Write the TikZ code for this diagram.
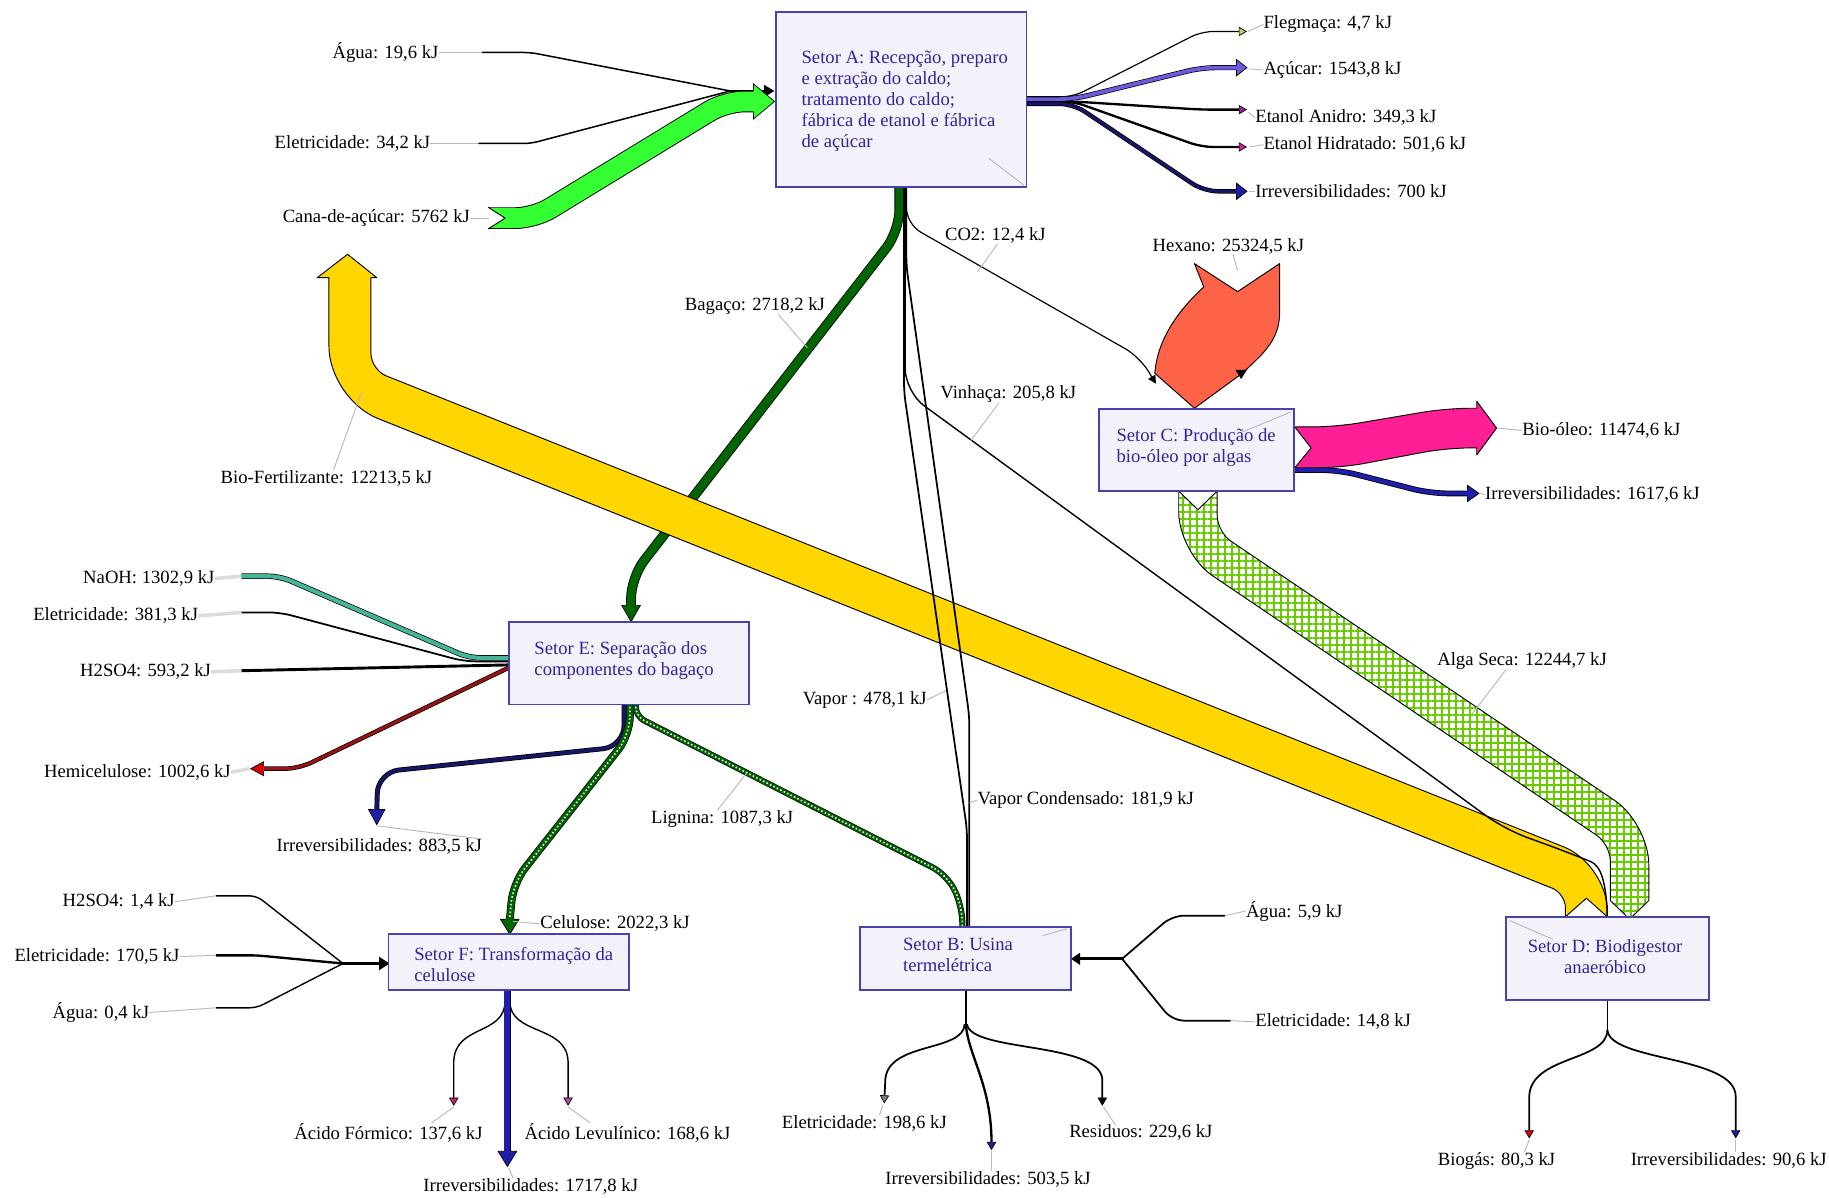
\documentclass[tikz,border=0pt]{standalone}
\usepackage{fontspec}
\setmainfont{Liberation Serif}
\usetikzlibrary{arrows.meta,patterns.meta}

\definecolor{boxfill}{RGB}{243,242,250}
\definecolor{boxline}{RGB}{70,66,175}
\definecolor{boxtext}{RGB}{48,36,160}
\definecolor{cana}{RGB}{51,255,51}
\definecolor{bagaco}{RGB}{0,100,0}
\definecolor{fert}{RGB}{255,214,0}
\definecolor{hexano}{RGB}{255,99,71}
\definecolor{bioleo}{RGB}{255,30,150}
\definecolor{alga}{RGB}{102,204,0}
\definecolor{navy}{RGB}{22,22,100}
\definecolor{irrblue}{RGB}{30,30,170}
\definecolor{acucar}{RGB}{110,90,220}
\definecolor{naoh}{RGB}{70,180,150}
\definecolor{hemi}{RGB}{150,20,20}
\definecolor{leader}{RGB}{185,185,185}
\definecolor{leaderlight}{RGB}{220,220,220}
\definecolor{flegma}{RGB}{200,200,100}
\definecolor{etanol}{RGB}{150,40,150}
\definecolor{hidrat}{RGB}{210,40,150}
\definecolor{formico}{RGB}{190,40,110}
\definecolor{levul}{RGB}{170,80,170}
\definecolor{biogas}{RGB}{220,0,0}

% arrow head of a wide band: tip, direction, length, head half width, band half width, fill
\newcommand\bandhead[6]{%
  \filldraw[fill=#6, draw=black, line width=0.6pt, line join=miter, shift={#1}, rotate=#2]
    (-#3,#5) -- (-#3,#4) -- (0,0) -- (-#3,-#4) -- (-#3,-#5);}

\begin{document}
\begin{tikzpicture}[x=1pt,y=-1pt,
  setor/.style={draw=boxline, fill=boxfill, line width=1.6pt, inner sep=0pt},
  boxtxt/.style={text=boxtext, align=left, inner sep=0pt, font=\fontsize{16}{18}\selectfont},
  lbl/.style={inner sep=0pt, font=\fontsize{16}{18}\selectfont},
  lead/.style={draw=leader, line width=0.8pt},
  leadwide/.style={draw=leaderlight, line width=3pt},
  flw/.style={draw=black, line join=round},
  tip/.style={-{Triangle[length=7pt,width=8pt,line width=0.6pt,fill=#1]}},
  tip/.default=black,
  dots/.style={draw=white, line width=1.3pt, dash pattern=on 1.3pt off 2pt}
]
\useasboundingbox (0,0) rectangle (1568,1027);
\fill[white] (0,0) rectangle (1568,1027);

% ---------- Setor A: inputs ----------
\draw[flw, line width=1.3pt, rounded corners=6pt] (413,45) -- (455,45) -- (626,78);
\draw[flw, line width=1.3pt, rounded corners=6pt] (410,123) -- (455,123) -- (626,78);
\draw[line width=2pt, -{Triangle[length=9pt,width=10pt]}] (624,78) -- (664,78);
\draw[line width=0.8pt, double=cana, double distance=17pt, rounded corners=16pt]
  (419,187) -- (458,187) -- (622,87) -- (647,87);
\bandhead{(664,87)}{0}{18}{15}{9.3}{cana}
\filldraw[fill=white, draw=black, line width=0.8pt] (418.5,177.7) -- (433,187) -- (418.5,196.3);

% ---------- Setor A: outputs to the right ----------
\draw[flw, line width=1pt, rounded corners=10pt, tip=flegma] (880,83) -- (920,83) -- (1030,27) -- (1069,27);
\draw[flw, line width=2pt, rounded corners=10pt, tip=etanol] (880,87) -- (920,87) -- (1030,94) -- (1069,94);
\draw[flw, line width=2pt, rounded corners=10pt, tip=hidrat] (880,87) -- (920,87) -- (1030,126) -- (1069,126);
\draw[line width=0.6pt, double=navy, double distance=2.6pt, rounded corners=12pt]
  (880,89) -- (920,89) -- (1032,164) -- (1061,164);
\bandhead{(1069,164)}{0}{9}{7}{1.9}{irrblue}
\draw[line width=0.6pt, double=acucar, double distance=3.2pt, rounded corners=12pt]
  (880,85) -- (920,85) -- (1030,58) -- (1061,58);
\bandhead{(1069,58)}{0}{9}{7}{2.2}{acucar}

% ---------- Bagaço ----------
\draw[line width=0.7pt, double=bagaco, double distance=7pt, rounded corners=18pt]
  (771,160) -- (771,198) -- (541,495) -- (541,520);
\bandhead{(541,533)}{-90}{14}{8}{4.2}{bagaco}

% ---------- Bio-Fertilizante (D -> out) ----------
\filldraw[fill=fert, draw=black, line width=0.8pt, line join=round]
  (298,218) -- (323,238) -- (318,238)
  [rounded corners=14pt] -- (318,317)
  [rounded corners=40pt] -- (1378,741)
  [sharp corners] -- (1378,786) -- (1360,770) -- (1342,786)
  [rounded corners=12pt] -- (1342,766)
  [rounded corners=45pt] -- (282,342)
  [sharp corners] -- (282,238) -- (272,238) -- cycle;

% ---------- lines leaving the bottom of Setor A ----------
\draw[flw, line width=1.2pt, rounded corners=20pt]
  (776,160) -- (776,336) -- (1290,711) -- (1345,731) .. controls (1372,742) and (1378,755) .. (1378,795);
\draw[flw, line width=1.5pt, rounded corners=8pt] (775,160) -- (775,336) -- (829,711) -- (829,796);
\draw[flw, line width=1.5pt, rounded corners=8pt] (777,160) -- (777,228) -- (831,614) -- (831,796);

% ---------- Hexano ----------
\filldraw[fill=hexano, draw=black, line width=0.8pt, line join=round]
  (1024,226) -- (1061,250) -- (1097,226) -- (1097,268)
  .. controls (1097,292) and (1082,304) .. (1065,320) -- (1024,350) -- (990,320)
  .. controls (992,293) and (1008,268) .. (1032,246) -- cycle;
\fill[black] (1059,317) -- (1069,317) -- (1064,325) -- cycle;
\draw[flw, line width=1pt, rounded corners=14pt, -{Triangle[length=7pt,width=7pt]}]
  (777,160) -- (777,192) -- (977,306) -- (991,329);

% ---------- Setor C: outputs ----------
\draw[line width=0.7pt, double=irrblue, double distance=3.5pt, rounded corners=15pt]
  (1109,403) -- (1148,403) -- (1226,423) -- (1259,423);
\bandhead{(1268,423)}{0}{10}{7}{2.5}{irrblue}
\filldraw[fill=bioleo, draw=black, line width=0.8pt, line join=round]
  (1124,384) -- (1110,366)
  [rounded corners=20pt] -- (1145,366) -- (1240,350)
  [sharp corners] -- (1266,350) -- (1266,344) -- (1283,367) -- (1266,390) -- (1266,384)
  [rounded corners=20pt] -- (1240,384) -- (1150,401)
  [sharp corners] -- (1110,401) -- cycle;

% ---------- Alga Seca (C -> D) ----------
\draw[draw=black, line width=0.8pt, line join=round, preaction={fill=white},
      pattern={Hatch[angle=0,distance=6pt,line width=1.7pt]}, pattern color=alga]
  (1027,437) -- (1043.5,421)
  [rounded corners=14pt] -- (1043.5,456)
  [rounded corners=35pt] -- (1413.5,706)
  [sharp corners] -- (1413.5,772) -- (1397,788) -- (1380.5,772)
  [rounded corners=14pt] -- (1380.5,724)
  [rounded corners=35pt] -- (1010.5,474)
  [sharp corners] -- (1010.5,421) -- cycle;

% ---------- Setor E: inputs and outputs ----------
\draw[line width=0.6pt, double=naoh, double distance=3.5pt, rounded corners=10pt]
  (207,494) -- (240,494) -- (402,564) -- (437,564);
\draw[flw, line width=1.5pt, rounded corners=10pt] (207,525) -- (240,525) -- (398,567) -- (437,567);
\draw[flw, line width=2.5pt] (207,575) -- (437,570);
\draw[line width=0.6pt, double=hemi, double distance=2.6pt, rounded corners=12pt]
  (437,572) -- (256,659) -- (226,659);
\bandhead{(215,659)}{180}{11}{6}{1.9}{biogas}

\draw[line width=0.6pt, double=navy, double distance=3pt, rounded corners=18pt]
  (535,604) -- (535,640) -- (324,662) -- (323,695);
\bandhead{(323,707)}{-90}{13}{7}{2.1}{irrblue}

\draw[line width=0.6pt, double=bagaco, double distance=5.5pt, rounded corners=16pt]
  (540,604) -- (540,630) -- (440,757) -- (437,789);
\draw[dots, rounded corners=16pt] (540,606) -- (540,630) -- (440,757) -- (437,787);
\bandhead{(437,801)}{-90}{13}{8}{3.4}{bagaco}

\draw[line width=0.6pt, double=bagaco, double distance=4pt]
  (545,604) [rounded corners=8pt] -- (545,614) [rounded corners=14pt] -- (812,750) -- (825,777) -- (825,796);
\draw[dots] (545,606) [rounded corners=8pt] -- (545,614) [rounded corners=14pt] -- (812,750) -- (825,777) -- (825,794);

% ---------- Setor F: inputs and outputs ----------
\draw[flw, line width=1.2pt, rounded corners=6pt] (185,768) -- (220,768) -- (294,826);
\draw[flw, line width=2pt, rounded corners=6pt] (185,819) -- (220,819) -- (294,826);
\draw[flw, line width=1.2pt, rounded corners=6pt] (185,864) -- (220,864) -- (294,826);
\draw[line width=2.5pt, -{Triangle[length=9pt,width=11pt]}] (292,826) -- (334,826);

\draw[flw, line width=1.2pt, tip=formico] (433,858) .. controls (433,888) and (390,878) .. (389,910) -- (389,948);
\draw[flw, line width=1.2pt, tip=levul] (437,858) .. controls (437,888) and (486,878) .. (487,910) -- (487,948);
\draw[line width=0.6pt, double=irrblue, double distance=5pt] (435,849) -- (435,988);
\bandhead{(435,1000)}{-90}{13}{8}{3.1}{irrblue}

% ---------- Setor B: inputs and outputs ----------
\draw[flw, line width=1.5pt, rounded corners=10pt] (1050,785) -- (1005,785) -- (962,822);
\draw[flw, line width=1.5pt, rounded corners=10pt] (1055,875) -- (1005,875) -- (962,822);
\draw[line width=2.5pt, -{Triangle[length=8pt,width=10pt]}] (964,822) -- (918,822);

\draw[line width=1.8pt] (828,849) -- (828,880);
\draw[flw, line width=1.5pt, tip=gray] (827,878) .. controls (826,902) and (762,893) .. (759,925) -- (758,946);
\draw[flw, line width=2pt, tip=irrblue] (828,878) .. controls (830,905) and (850,930) .. (850,986);
\draw[flw, line width=1.5pt, tip=black] (829,878) .. controls (832,902) and (942,893) .. (945,925) -- (945,948);

% ---------- Setor D: outputs ----------
\draw[line width=1.5pt] (1378,857) -- (1378,885);
\draw[flw, line width=1.5pt, tip=biogas] (1378,883) .. controls (1378,910) and (1312,905) .. (1311,940) -- (1311,976);
\draw[flw, line width=1.5pt, tip=irrblue] (1378,883) .. controls (1380,910) and (1488,905) .. (1488,940) -- (1488,976);

% ---------- sectors ----------
\node[setor, minimum width=215pt, minimum height=150pt] (sA) at (772.5,85) {};
\node[setor, minimum width=167pt, minimum height=70pt] (sC) at (1025.5,386) {};
\node[setor, minimum width=206pt, minimum height=71pt] (sE) at (539,568.5) {};
\node[setor, minimum width=206pt, minimum height=48pt] (sF) at (436,825) {};
\node[setor, minimum width=181pt, minimum height=54pt] (sB) at (827.5,822) {};
\node[setor, minimum width=174pt, minimum height=71pt] (sD) at (1378,821.5) {};

\draw[lead] ([shift={(-33,-25)}]sA.south east) -- ([shift={(-3,-2)}]sA.south east);
\draw[lead] ([shift={(-3,3)}]sC.north east) -- ([shift={(-47,21)}]sC.north east);
\draw[lead] ([shift={(-4,2)}]sB.north east) -- ([shift={(-25,8)}]sB.north east);
\draw[lead] ([shift={(4,4)}]sD.north west) -- ([shift={(41,20)}]sD.north west);

\node[boxtxt, anchor=west] (tA) at (687,87) {Setor A: Recepção, preparo\\e extração do caldo;\\tratamento do caldo;\\fábrica de etanol e fábrica\\de açúcar};
\node[boxtxt, anchor=west] (tC) at (957,384) {Setor C: Produção de\\bio-óleo por algas};
\node[boxtxt, anchor=west] (tE) at (458,566) {Setor E: Separação dos\\componentes do bagaço};
\node[boxtxt, anchor=west] (tF) at (355,827) {Setor F: Transformação da\\celulose};
\node[boxtxt, anchor=west] (tB) at (774,819) {Setor B: Usina\\termelétrica};
\node[boxtxt, align=center] (tD) at (1376,820) {Setor D: Biodigestor\\anaeróbico};

% ---------- labels ----------
\node[lbl, anchor=east] (lAgua1) at (376,45) {Água: 19,6 kJ};
\node[lbl, anchor=east] (lEle1) at (369,123) {Eletricidade: 34,2 kJ};
\node[lbl, anchor=east] (lCana) at (403,187) {Cana-de-açúcar: 5762 kJ};
\node[lbl, anchor=west] (lFleg) at (1083,21) {Flegmaça: 4,7 kJ};
\node[lbl, anchor=west] (lAcu) at (1083,60) {Açúcar: 1543,8 kJ};
\node[lbl, anchor=west] (lAni) at (1076,101) {Etanol Anidro: 349,3 kJ};
\node[lbl, anchor=west] (lHid) at (1083,124) {Etanol Hidratado: 501,6 kJ};
\node[lbl, anchor=west] (lIrA) at (1076,164) {Irreversibilidades: 700 kJ};
\node[lbl, anchor=west] (lCO2) at (810,202) {CO2: 12,4 kJ};
\node[lbl, anchor=west] (lHex) at (988,211) {Hexano: 25324,5 kJ};
\node[lbl, anchor=west] (lBag) at (587,262) {Bagaço: 2718,2 kJ};
\node[lbl, anchor=west] (lVin) at (806,338) {Vinhaça: 205,8 kJ};
\node[lbl, anchor=west] (lBio) at (1305,369) {Bio-óleo: 11474,6 kJ};
\node[lbl, anchor=west] (lIrC) at (1273,424) {Irreversibilidades: 1617,6 kJ};
\node[lbl, anchor=west] (lFert) at (189,410) {Bio-Fertilizante: 12213,5 kJ};
\node[lbl, anchor=east] (lNaOH) at (184,496) {NaOH: 1302,9 kJ};
\node[lbl, anchor=east] (lEleE) at (170,528) {Eletricidade: 381,3 kJ};
\node[lbl, anchor=east] (lH2E) at (181,576) {H2SO4: 593,2 kJ};
\node[lbl, anchor=east] (lHemi) at (198,662) {Hemicelulose: 1002,6 kJ};
\node[lbl, anchor=west] (lAlga) at (1232,567) {Alga Seca: 12244,7 kJ};
\node[lbl, anchor=west] (lVap) at (688,600) {Vapor : 478,1 kJ};
\node[lbl, anchor=west] (lIrE) at (237,726) {Irreversibilidades: 883,5 kJ};
\node[lbl, anchor=west] (lLig) at (558,702) {Lignina: 1087,3 kJ};
\node[lbl, anchor=west] (lVC) at (838,686) {Vapor Condensado: 181,9 kJ};
\node[lbl, anchor=east] (lH2F) at (150,773) {H2SO4: 1,4 kJ};
\node[lbl, anchor=east] (lEleF) at (154,820) {Eletricidade: 170,5 kJ};
\node[lbl, anchor=east] (lAguaF) at (128,868) {Água: 0,4 kJ};
\node[lbl, anchor=west] (lCel) at (463,792) {Celulose: 2022,3 kJ};
\node[lbl, anchor=west] (lAguaB) at (1068,781) {Água: 5,9 kJ};
\node[lbl, anchor=west] (lEleB) at (1076,876) {Eletricidade: 14,8 kJ};
\node[lbl] (lFor) at (333,971) {Ácido Fórmico: 137,6 kJ};
\node[lbl] (lLev) at (538,971) {Ácido Levulínico: 168,6 kJ};
\node[lbl] (lIrF) at (455,1017) {Irreversibilidades: 1717,8 kJ};
\node[lbl] (lEleB2) at (741,963) {Eletricidade: 198,6 kJ};
\node[lbl] (lIrB) at (847,1011) {Irreversibilidades: 503,5 kJ};
\node[lbl] (lRes) at (978,971) {Residuos: 229,6 kJ};
\node[lbl] (lBgas) at (1283,995) {Biogás: 80,3 kJ};
\node[lbl] (lIrD) at (1482,995) {Irreversibilidades: 90,6 kJ};

% ---------- label leaders ----------
\draw[lead] (lAgua1.east) -- (413,45);
\draw[lead] (lEle1.east) -- (410,123);
\draw[lead] (lCana.east) -- (419,187);
\draw[lead] (lFleg.west) -- (1070,27);
\draw[lead] (lAcu.west) -- (1071,59);
\draw[lead] (lAni.west) -- (1070,96);
\draw[lead] (lHid.west) -- (1071,126);
\draw[lead] (lIrA.west) -- (1071,164);
\draw[lead] ([xshift=2pt]lCO2.south) -- (838,233);
\draw[lead] ([xshift=4pt]lHex.south) -- (1061,232);
\draw[lead] ([xshift=20pt]lBag.south) -- (692,298);
\draw[lead] ([xshift=-8pt]lVin.south) -- (832,378);
\draw[lead] (lBio.west) -- (1284,367);
\draw[lead] (lIrC.west) -- (1269,423);
\draw[lead] ([xshift=6pt]lFert.north) -- (310,336);
\draw[leadwide] (lNaOH.east) -- (207,494);
\draw[leadwide] (lEleE.east) -- (207,525);
\draw[leadwide] (lH2E.east) -- (207,575);
\draw[leadwide] (lHemi.east) -- (214,659);
\draw[lead] ([xshift=-14pt]lAlga.south) -- (1262,612);
\draw[lead] (lVap.east) -- (811,592);
\draw[lead] ([xshift=86pt]lIrE.north) -- (323,708);
\draw[lead] ([xshift=-4pt]lLig.north) -- (640,663);
\draw[lead] (lVC.west) -- (831,688);
\draw[lead] (lH2F.east) -- (185,768);
\draw[lead] (lEleF.east) -- (185,819);
\draw[lead] (lAguaF.east) -- (185,864);
\draw[lead] (lCel.west) -- (440,790);
\draw[lead] (lAguaB.west) -- (1050,785);
\draw[lead] (lEleB.west) -- (1055,875);
\draw[lead] ([xshift=37pt]lFor.north) -- (389,949);
\draw[lead] ([xshift=-32pt]lLev.north) -- (487,949);
\draw[lead] ([xshift=-15pt]lIrF.north) -- (436,1001);
\draw[lead] ([xshift=13pt]lEleB2.north) -- (757,947);
\draw[lead] ([xshift=3pt]lIrB.north) -- (850,987);
\draw[lead] ([xshift=-22pt]lRes.north) -- (946,949);
\draw[lead] ([xshift=24pt]lBgas.north) -- (1311,977);
\draw[lead] ([xshift=6pt]lIrD.north) -- (1488,977);
\end{tikzpicture}
\end{document}
